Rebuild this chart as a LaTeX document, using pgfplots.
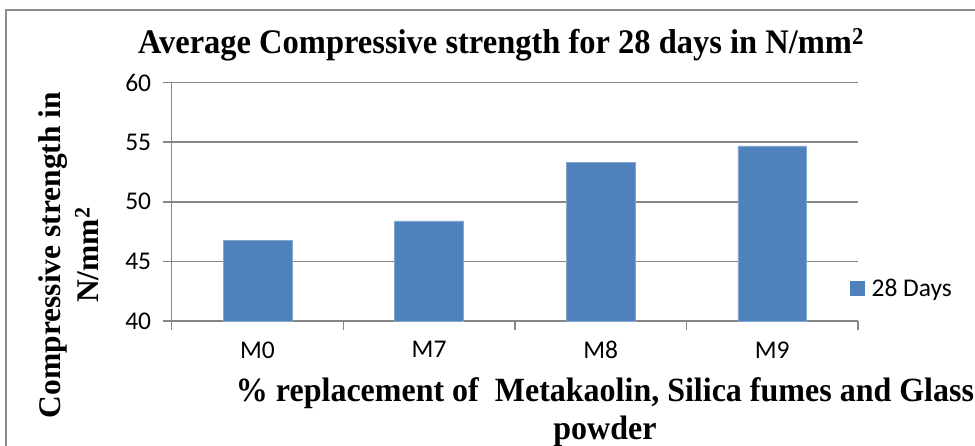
\documentclass[border=0pt]{standalone}
\usepackage{pgfplots}
\pgfplotsset{compat=1.18}
\usepackage{fontspec}
\setmainfont{Liberation Serif}
\newfontfamily\calibri{Carlito}
\definecolor{barblue}{HTML}{4F81BD}
\definecolor{gridgray}{HTML}{868686}
\definecolor{framegray}{HTML}{8C8C8C}
\begin{document}
\begin{tikzpicture}
\useasboundingbox (0pt,0pt) rectangle (975pt,-445pt);
\clip (0pt,0pt) rectangle (975pt,-445pt);
\draw[framegray, line width=1.5pt] (6pt,-460pt) -- (6pt,-10pt) -- (990pt,-10pt);
\begin{axis}[
  at={(171.7pt,-321pt)}, anchor=south west,
  scale only axis, width=686.3pt, height=238.5pt,
  xmin=-0.5, xmax=3.5, ymin=40, ymax=60,
  axis x line*=bottom, axis y line*=left,
  axis line style={gridgray, line width=1.5pt},
  tick align=outside,
  xtick={0,1,2,3}, xticklabels={M0,M7,M8,M9},
  minor xtick={-0.5,0.5,1.5,2.5,3.5},
  ytick={40,45,50,55,60},
  major tick length=9pt, minor tick length=9pt,
  x tick style={draw=none},
  minor x tick style={draw=gridgray, line width=1.5pt},
  y tick style={draw=gridgray, line width=1.5pt},
  ymajorgrids, major grid style={gridgray, line width=1.5pt},
  tick label style={font=\fontsize{25.5}{30}\calibri},
  /pgf/number format/assume math mode=true,
  yticklabel style={xshift=-8pt},
  xticklabel style={yshift=-8pt},
  ybar, bar width=0.4,
  legend style={at={(0.988,0.138)}, anchor=west, draw=none, fill=none,
    inner sep=0pt, font=\fontsize{25.5}{30}\calibri,
    /tikz/every odd column/.append style={column sep=5pt}},
  legend image code/.code={\fill[barblue] (0pt,-7pt) rectangle (14pt,7pt);},
]
\addplot[fill=barblue, draw=barblue!70!white, line width=0.6pt] coordinates {(0,46.77) (1,48.39) (2,53.29) (3,54.68)};
\addlegendentry{28 Days}
\end{axis}
\node[font=\fontsize{32.5}{38}\selectfont\bfseries, yscale=1.06] at (501pt,-45pt) {Average Compressive strength for 28 days in N/mm\textsuperscript{2}};
\node[rotate=90, align=center, font=\fontsize{31.5}{38}\selectfont\bfseries] at (69pt,-255pt) {Compressive strength in\\N/mm\textsuperscript{2}};
\node[align=center, font=\fontsize{32}{36}\selectfont\bfseries, yscale=1.06] at (605pt,-412pt) {\%~replacement of~~Metakaolin, Silica fumes and Glass\\powder};
\end{tikzpicture}
\end{document}
